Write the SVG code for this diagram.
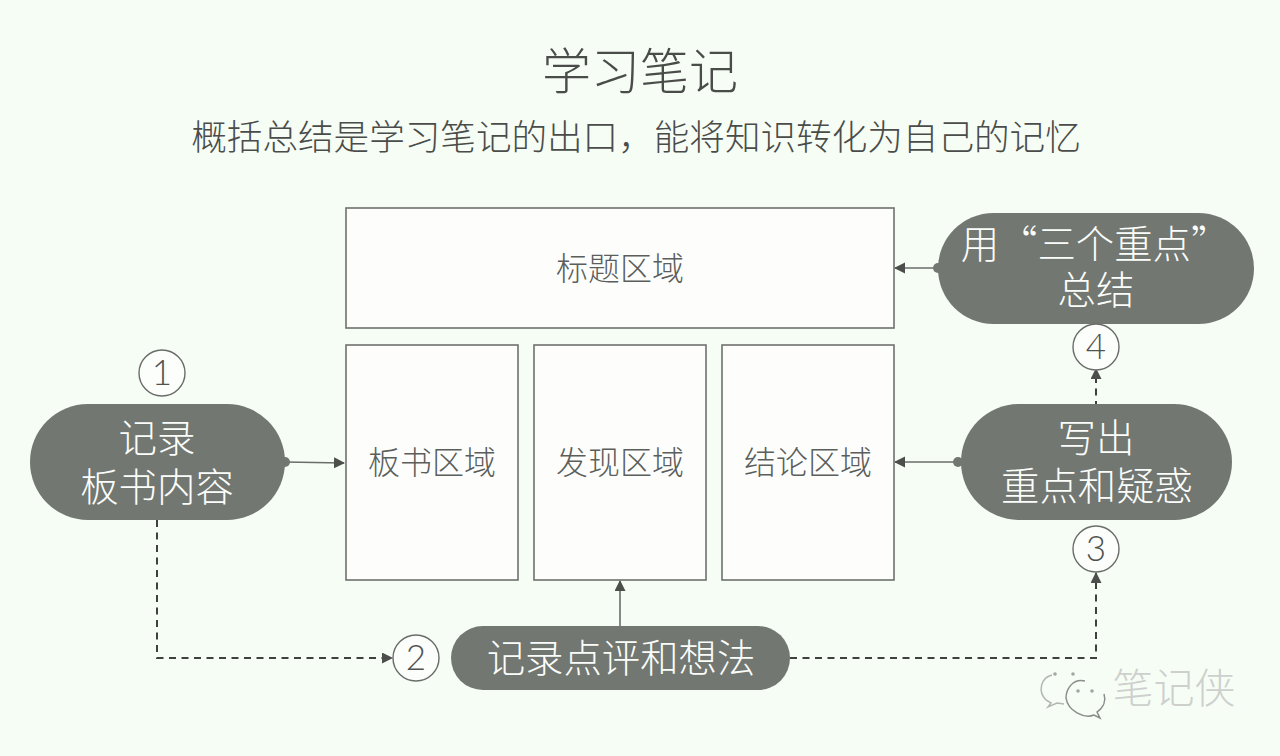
<svg xmlns="http://www.w3.org/2000/svg" width="1280" height="756" viewBox="0 0 1280 756">
<style>
text{font-family:"Noto Sans CJK SC","Noto Sans",sans-serif;font-weight:300;text-anchor:middle}
.area{fill:#fdfefc;stroke:#6f716e;stroke-width:1.6}
.pill{fill:#727772}
.pt{fill:#fbfdfb;font-size:38.4px}
.at{fill:#5c5e5c;font-size:32px}
.num{fill:#fcfefb;stroke:#6a6c6a;stroke-width:1.4}
.nt{fill:#505250;font-size:35px;font-family:"Lato",sans-serif;font-weight:300}
.solid{fill:none;stroke:#6a6d6a;stroke-width:1.6}
.dash{fill:none;stroke:#3f413f;stroke-width:2;stroke-dasharray:7 5.5}
</style>
<defs>
<marker id="arr" markerUnits="userSpaceOnUse" markerWidth="12" markerHeight="12" refX="10" refY="5.5" orient="auto"><path d="M0 0L11 5.5L0 11Z" fill="#4c4e4c"/></marker>
</defs>
<rect width="1280" height="756" fill="#f6fdf5"/>
<text x="640" y="89" fill="#4a4c4a" font-size="49">学习笔记</text>
<text x="636" y="150" fill="#4a4c4a" font-size="35.6">概括总结是学习笔记的出口，能将知识转化为自己的记忆</text>

<!-- arrows between the note areas, the pills and the numbered steps -->
<g id="connectors">
<path class="solid" d="M285 462L344 463" marker-end="url(#arr)"/>
<circle cx="285" cy="462" r="5" fill="#727772"/>
<path class="solid" d="M958 462H895" marker-end="url(#arr)"/>
<circle cx="958" cy="462" r="5" fill="#727772"/>
<path class="solid" d="M938 268H895" marker-end="url(#arr)"/>
<circle cx="938" cy="268" r="5" fill="#727772"/>
<path class="solid" d="M620 626V581" marker-end="url(#arr)"/>
<path class="dash" d="M157 520V658H392" marker-end="url(#arr)"/>
<path class="dash" d="M790 658H1096V573" marker-end="url(#arr)"/>
<path class="dash" d="M1096 408V369" marker-end="url(#arr)"/>
</g>

<g id="area-title"><rect class="area" x="346" y="208" width="548" height="120"/><text class="at" x="620" y="280">标题区域</text></g>
<g id="area-board"><rect class="area" x="346" y="345" width="172" height="235"/><text class="at" x="432" y="474">板书区域</text></g>
<g id="area-findings"><rect class="area" x="534" y="345" width="172" height="235"/><text class="at" x="620" y="474">发现区域</text></g>
<g id="area-conclusion"><rect class="area" x="722" y="345" width="172" height="235"/><text class="at" x="808" y="474">结论区域</text></g>

<g id="pill-record"><rect class="pill" x="30" y="404" width="255" height="116" rx="58"/><text class="pt"><tspan x="157" y="452">记录</tspan><tspan x="157" y="501">板书内容</tspan></text></g>
<g id="pill-notes"><rect class="pill" x="451" y="626" width="339" height="64" rx="32"/><text class="pt" x="621" y="672">记录点评和想法</text></g>
<g id="pill-keypoints"><rect class="pill" x="961" y="404" width="271" height="116" rx="58"/><text class="pt"><tspan x="1096" y="452">写出</tspan><tspan x="1097" y="500">重点和疑惑</tspan></text></g>
<g id="pill-summary"><rect class="pill" x="938" y="213" width="316" height="111" rx="55.5"/><text class="pt"><tspan x="1095" y="258">用“三个重点”</tspan><tspan x="1096" y="304">总结</tspan></text></g>

<g id="step-1"><circle class="num" cx="162" cy="373" r="23"/><text class="nt" x="162" y="385">1</text></g>
<g id="step-2"><circle class="num" cx="416" cy="658" r="23"/><text class="nt" x="416" y="670">2</text></g>
<g id="step-3"><circle class="num" cx="1096" cy="549" r="23"/><text class="nt" x="1096" y="561">3</text></g>
<g id="step-4"><circle class="num" cx="1096" cy="347" r="23"/><text class="nt" x="1096" y="359">4</text></g>

<g id="watermark">
<path d="M1052 675C1040 678 1038 692 1046 700L1051 703L1048 707L1057 703L1064 704" fill="none" stroke="#b4b6b4" stroke-width="1.5"/>
<path d="M1085 681C1072 678 1066 690 1066 698C1068 711 1084 719 1094 715L1100 718L1097 712C1104 707 1106 700 1104 694" fill="none" stroke="#8b8d8b" stroke-width="1.5"/>
<g fill="#a4a6a4"><circle cx="1055" cy="674" r="1.8"/><circle cx="1073" cy="674" r="1.8"/><circle cx="1078" cy="691" r="1.8"/><circle cx="1092" cy="691" r="1.8"/></g>
<text x="1174" y="703" fill="#cdd0cd" font-size="41">笔记侠</text>
</g>
</svg>
